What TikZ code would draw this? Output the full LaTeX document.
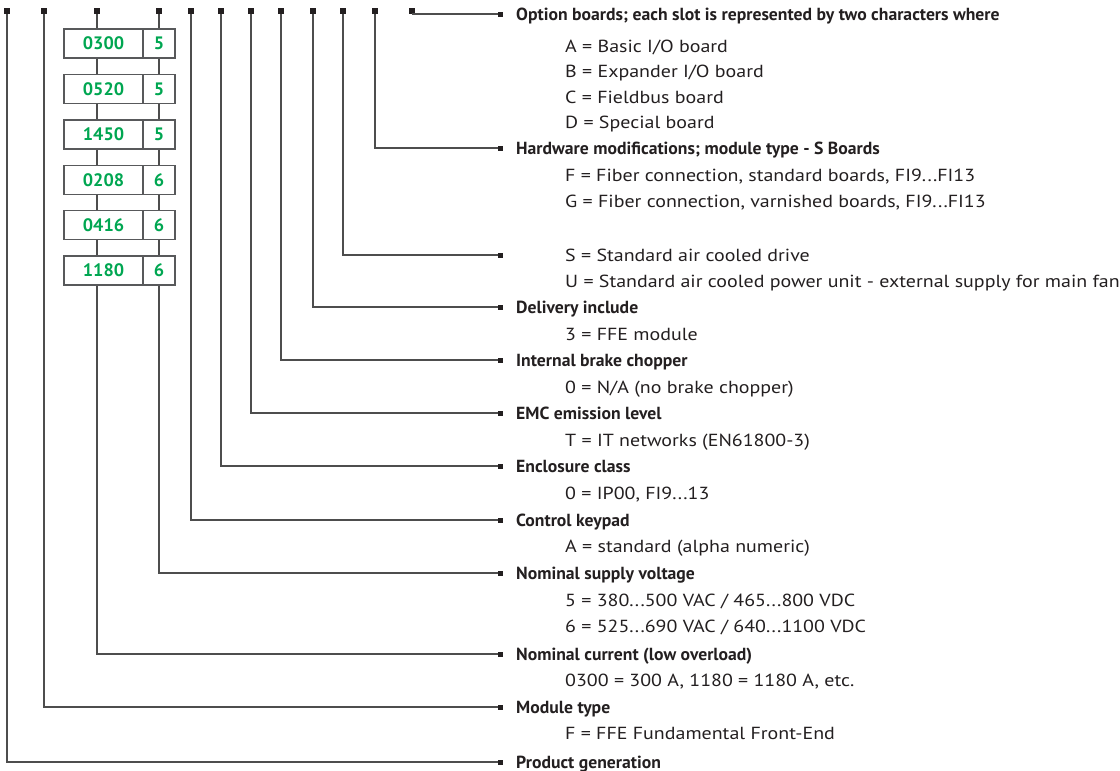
\documentclass[tikz,border=0pt]{standalone}
\usepackage{fontspec}
\setmainfont{PT Sans}[FakeStretch=1.14,BoldFeatures={FakeStretch=1.01}]
\definecolor{linegray}{HTML}{4D4D4D}
\definecolor{sqdark}{HTML}{231F20}
\definecolor{txt}{HTML}{231F20}
\definecolor{boxgray}{HTML}{58595B}
\definecolor{codegreen}{HTML}{00A651}
\begin{document}
\begin{tikzpicture}[x=1pt,y=-1pt,
  conn/.style={draw=linegray,line width=1.3pt},
  topsq/.style={fill=sqdark,minimum size=6pt,inner sep=0pt,outer sep=0pt},
  endsq/.style={fill=sqdark,minimum size=5pt,inner sep=0pt,outer sep=0pt},
  head/.style={anchor=base west,inner sep=0pt,font=\fontsize{17.5}{19}\selectfont\bfseries,text=txt},
  item/.style={anchor=base west,inner sep=0pt,font=\fontsize{17.5}{19}\selectfont,text=txt},
  cbox/.style={draw=boxgray,line width=1.4pt,minimum height=29pt,inner sep=0pt,
    font=\fontsize{18}{20}\selectfont\bfseries,text=codegreen},
  lbox/.style={cbox,minimum width=79pt},
  rbox/.style={cbox,minimum width=32pt}]
\useasboundingbox (0,0) rectangle (1120,771);

% code boxes
\foreach \i/\cur/\vol/\yy in {1/0300/5/43.5,2/0520/5/88.9,3/1450/5/134.3,4/0208/6/179.7,5/0416/6/225.1,6/1180/6/270.5}{
  \node[lbox] (c\i) at (103.5,\yy) {\cur};
  \node[rbox] (v\i) at (159,\yy) {\vol};
}

% top squares
\foreach \n/\xx in {1/7,2/44,3/97,4/159,5/191,6/221,7/251,8/281,9/313,10/343,11/375,12/412}{
  \node[topsq] (t\n) at (\xx,11) {};
}

% end squares
\foreach \n/\yy in {0/14,5/148,9/255,11/307,13/360,15/413,17/466,19/520,21/573,24/654,26/707,28/762}{
  \node[endsq] (e\n) at (500,\yy) {};
}

% headings
\node[head] (h0) at (516,20.1) {Option boards; each slot is represented by two characters where};
\node[head] (h5) at (516,154.1) {Hardware modifications; module type - S Boards};
\node[head] (h11) at (516,313.1) {Delivery include};
\node[head] (h13) at (516,366.1) {Internal brake chopper};
\node[head] (h15) at (516,419.1) {EMC emission level};
\node[head] (h17) at (516,472.1) {Enclosure class};
\node[head] (h19) at (516,526.1) {Control keypad};
\node[head] (h21) at (516,579.1) {Nominal supply voltage};
\node[head] (h24) at (516,660.1) {Nominal current (low overload)};
\node[head] (h26) at (516,713.1) {Module type};
\node[head] (h28) at (516,768.1) {Product generation};

% items
\node[item] (i1) at (565,52.1) {A = Basic I/O board};
\node[item] (i2) at (565,77.6) {B = Expander I/O board};
\node[item] (i3) at (565,103.1) {C = Fieldbus board};
\node[item] (i4) at (565,128.6) {D = Special board};
\node[item] (i6) at (565,181.1) {F = Fiber connection, standard boards, FI9...FI13};
\node[item] (i7) at (565,207.1) {G = Fiber connection, varnished boards, FI9...FI13};
\node[item] (i9) at (565,261.1) {S = Standard air cooled drive};
\node[item] (i10) at (565,287.1) {U = Standard air cooled power unit - external supply for main fan};
\node[item] (i12) at (565,340.1) {3 = FFE module};
\node[item] (i14) at (565,393.1) {0 = N/A (no brake chopper)};
\node[item] (i16) at (565,446.1) {T = IT networks (EN61800-3)};
\node[item] (i18) at (565,499.1) {0 = IP00, FI9...13};
\node[item] (i20) at (565,552.1) {A = standard (alpha numeric)};
\node[item] (i22) at (565,606.1) {5 = 380...500 VAC / 465...800 VDC};
\node[item] (i23) at (565,632.1) {6 = 525...690 VAC / 640...1100 VDC};
\node[item] (i25) at (565,686.1) {0300 = 300 A, 1180 = 1180 A, etc.};
\node[item] (i27) at (565,739.1) {F = FFE Fundamental Front-End};

% connectors
\draw[conn] (t1) |- (e28);
\draw[conn] (t2) |- (e26);
\draw[conn] (t3) -- (t3 |- c1.north);
\draw[conn] (t4) -- (t4 |- v1.north);
\foreach \a/\b in {1/2,2/3,3/4,4/5,5/6}{
  \draw[conn] (c\a.south -| t3) -- (c\b.north -| t3);
  \draw[conn] (v\a.south -| t4) -- (v\b.north -| t4);
}
\draw[conn] (c6.south -| t3) |- (e24);
\draw[conn] (v6.south -| t4) |- (e21);
\draw[conn] (t5) |- (e19);
\draw[conn] (t6) |- (e17);
\draw[conn] (t7) |- (e15);
\draw[conn] (t8) |- (e13);
\draw[conn] (t9) |- (e11);
\draw[conn] (t10) |- (e9);
\draw[conn] (t11) |- (e5);
\draw[conn] (t12) |- (e0);
\end{tikzpicture}
\end{document}
